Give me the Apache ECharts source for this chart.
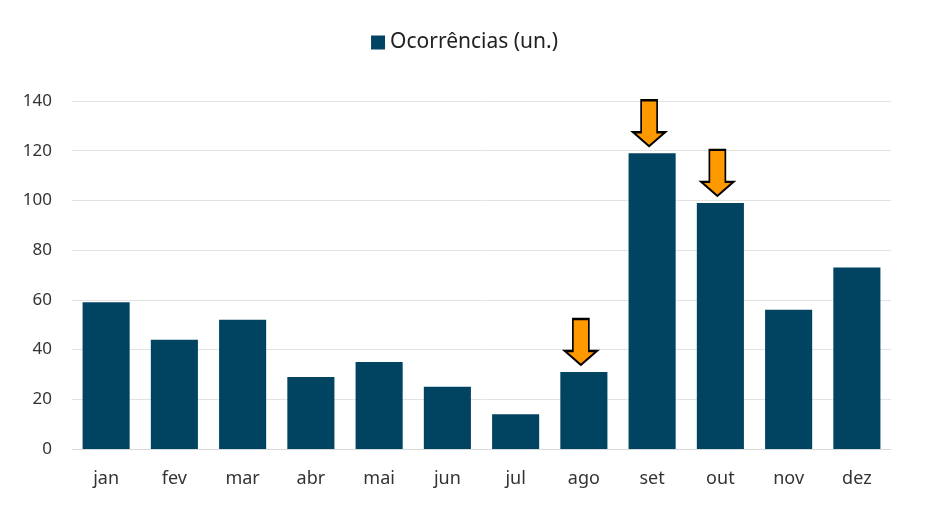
<!DOCTYPE html>
<html>
<head>
<meta charset="utf-8">
<script src="https://cdn.jsdelivr.net/npm/echarts@6/dist/echarts.min.js"></script>
<style>
html,body{margin:0;padding:0;background:#fff;}
#main{width:929px;height:516px;}
</style>
</head>
<body>
<div id="main"></div>
<script>
// dados
var meses = ['jan', 'fev', 'mar', 'abr', 'mai', 'jun', 'jul', 'ago', 'set', 'out', 'nov', 'dez'];
var ocorrencias = [59, 44, 52, 29, 35, 25, 14, 31, 119, 99, 56, 73];
var destaques = ['ago', 'set', 'out']; // meses com seta

(function(){
  var myChart = echarts.init(document.getElementById('main'));
  var seta = 'path://M8,0 L24,0 L24,32 L32,32 L16,46 L0,32 L8,32 Z';

  var pontos = destaques.map(function(m){
    return { coord: [m, ocorrencias[meses.indexOf(m)]] };
  });

  var option = {
    animation: false,
    textStyle: { fontFamily: 'Noto Sans' },
    legend: {
      top: 27,
      left: 'center',
      icon: 'rect',
      itemWidth: 14,
      itemHeight: 14,
      itemGap: 8,
      textStyle: { fontSize: 21, color: '#222' },
      data: ['Ocorrências (un.)']
    },
    grid: { left: 72, right: 38, top: 101, bottom: 67 },
    xAxis: {
      type: 'category',
      data: meses,
      axisTick: { show: false },
      axisLine: { lineStyle: { color: '#d9d9d9' } },
      axisLabel: { fontSize: 18, color: '#333', margin: 21 }
    },
    yAxis: {
      type: 'value',
      min: 0,
      max: 140,
      interval: 20,
      axisLabel: { fontSize: 17, color: '#333', margin: 20 },
      splitLine: { lineStyle: { color: '#e3e3e3' } }
    },
    series: [
      {
        name: 'Ocorrências (un.)',
        type: 'bar',
        barCategoryGap: '31%',
        itemStyle: { color: '#014462' },
        data: ocorrencias,
        markPoint: {
          symbol: seta,
          symbolSize: [32, 46],
          symbolOffset: [-3, -30],
          label: { show: false },
          itemStyle: { color: '#FF9900', borderColor: '#000', borderWidth: 2 },
          data: pontos
        }
      }
    ]
  };
  myChart.setOption(option);
  window.addEventListener("resize", function(){
    myChart.resize();
  });
})();
</script>
</body>
</html>
